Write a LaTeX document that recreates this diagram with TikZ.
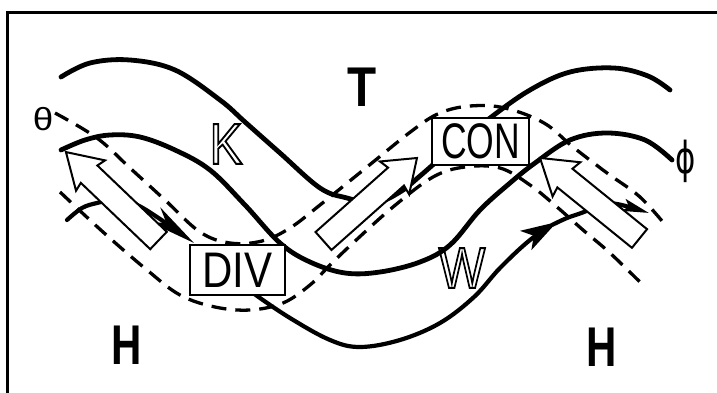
\documentclass[tikz,border=0pt]{standalone}
\usepackage{fontspec}
\setmainfont{Liberation Sans}
\newfontfamily\dejavu{DejaVu Sans}
\usepackage{graphicx}
\usetikzlibrary{arrows.meta}

\newcommand{\blockarrow}[8]{%
  % #1,#2 tail centre (px), #3 angle, #4 length, #5 body half width, #6 head half width, #7 head length, #8 name
  \begin{scope}[shift={(#1,#2)}, rotate=#3]
    \path[bigarrow] (0,-#5) -- ({#4-#7+2},-#5) -- ({#4-#7},-#6) -- (#4,0)
      -- ({#4-#7},#6) -- ({#4-#7+2},#5) -- (0,#5) -- cycle;
  \end{scope}}
\newcommand{\outlinetext}[1]{\special{pdf:literal direct 1 Tr 2 w}#1\special{pdf:literal direct 0 Tr}}

\begin{document}
\begin{tikzpicture}[x=1pt,y=-1pt,
  wave/.style={line width=4.8pt, line cap=round},
  dashwave/.style={line width=3.3pt, dash pattern=on 15pt off 9pt},
  flow/.style={line width=4.2pt, line cap=round},
  bigarrow/.style={draw, fill=white, line width=2pt, line join=miter},
  labelbox/.style={draw, fill=white, line width=2pt, inner sep=0pt,
    font=\fontsize{50}{50}\selectfont},
  bigletter/.style={font=\bfseries\fontsize{56}{56}\selectfont, inner sep=0pt},
  hollow/.style={font=\fontsize{58}{58}\selectfont, inner sep=0pt},
  greek/.style={inner sep=0pt},
]
\useasboundingbox (0,0) rectangle (717,393);
\fill[white] (0,0) rectangle (717,393);

% frame
\draw[line width=3pt] (717,13) -- (7.5,13) -- (7.5,393);

% dashed isentropes
\draw[dashwave] plot[smooth, tension=0.6] coordinates {(55,113) (97,138) (130,168) (165,200) (200,232) (230,243) (262,241) (290,228) (320,205) (367,167) (413,130) (440,113) (470,106) (505,108) (544,123) (573,147) (607,173) (640,197) (667,227)};
\draw[dashwave] plot[smooth, tension=0.6] coordinates {(60,192) (103,232) (147,270) (180,295) (215,307) (250,310) (283,303) (310,285) (330,265) (353,243) (393,207) (433,177) (465,167) (500,168) (530,185) (557,207) (583,230) (610,253) (645,287)};

% solid height contours
\draw[wave] plot[smooth, tension=0.6] coordinates {(61,77) (90,63) (130,60) (175,70) (220,100) (245,122) (280,153) (320,188) (347,198) (375,203) (400,192) (420,176) (450,150) (490,118) (530,90) (570,72) (614,68) (648,76) (670,90)};
\draw[wave] plot[smooth, tension=0.6] coordinates {(61,150) (85,140) (110,135) (140,137) (175,150) (210,170) (245,205) (280,243) (310,262) (345,273) (380,272) (420,262) (450,245) (480,210) (510,183) (535,163) (570,140) (607,133) (645,140) (672,160)};

% flow line
\draw[flow, -{Stealth[length=48pt,width=18pt,inset=14pt]}] plot[smooth, tension=0.6] coordinates {(67,220) (82,208) (97,203) (115,200) (135,204) (160,219) (194,243)};
\draw[flow, -{Stealth[length=36pt,width=22pt,inset=9pt]}] plot[smooth, tension=0.6] coordinates {(240,282) (253,293) (290,318) (330,340) (360,347) (400,340) (440,323) (474,297) (500,268) (530,240) (557,222)};
\draw[flow, -{Stealth[length=26pt,width=12pt,inset=5pt]}] plot[smooth, tension=0.6] coordinates {(552,225) (567,218) (584,212) (600,205) (617,204) (649,213)};

% big hollow arrows
\blockarrow{158.5}{240.5}{136.3}{128}{12}{21}{34}{al}
\blockarrow{323.5}{241}{41.6}{125}{12}{22}{30}{am}
\blockarrow{639.5}{238.5}{141}{128}{12}{22}{34}{ar}

% boxes
\node[labelbox, minimum width=95pt, minimum height=50pt] (div) at (237.5,270) {\scalebox{0.84}[1]{DIV}};
\node[labelbox, minimum width=97pt, minimum height=47pt] (con) at (480.5,141.5) {\scalebox{0.71}[1]{CON}};

% letters
\node[bigletter] (t) at (362,87) {\scalebox{0.85}[1]{T}};
\node[bigletter] (hl) at (127,345) {\scalebox{0.75}[1]{H}};
\node[bigletter] (hr) at (602,347) {\scalebox{0.75}[1]{H}};
\node[hollow] (k) at (226,144) {\scalebox{0.85}[1]{\outlinetext{K}}};
\node[hollow] (w) at (462,268) {\scalebox{0.85}[1]{\outlinetext{W}}};
\node[greek, font=\fontsize{32}{32}\selectfont] (theta) at (43,119) {\scalebox{1.15}[1]{θ}};
\node[greek, font=\dejavu\fontsize{44}{44}\selectfont] (phi) at (686,161) {\scalebox{0.7}[1]{ϕ}};
\end{tikzpicture}
\end{document}
